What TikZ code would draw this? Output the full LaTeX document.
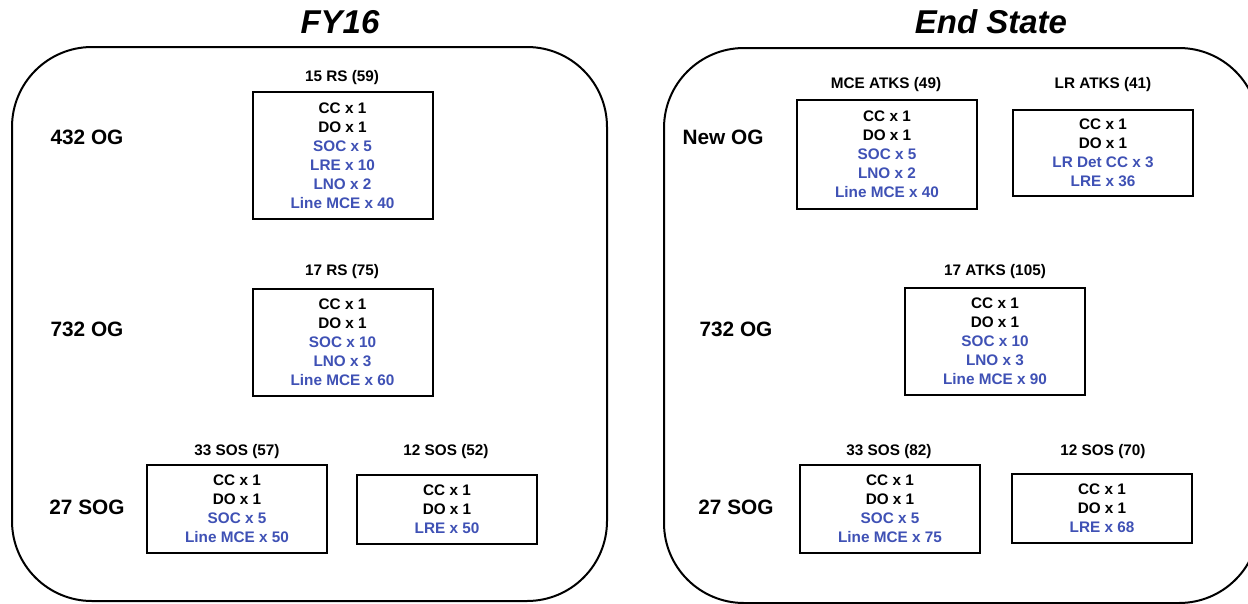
\documentclass[tikz,border=0pt]{standalone}
\usepackage{fontspec}
\setmainfont{Liberation Sans}
\definecolor{itemblue}{RGB}{63,81,181}
\begin{document}
\begin{tikzpicture}[x=1pt,y=-1pt,
  panel/.style={draw=black,line width=2pt,rounded corners=80pt},
  unitbox/.style={draw=black,line width=2pt,minimum width=180pt,align=center,inner sep=0pt,font=\fontsize{15.3}{19}\selectfont\bfseries},
  unitlabel/.style={font=\fontsize{15.3}{17}\selectfont\bfseries},
  grplabel/.style={font=\fontsize{20.8}{24}\selectfont\bfseries},
  title/.style={font=\fontsize{33}{38}\selectfont\bfseries\itshape},
  bl/.style={text=itemblue}]
\useasboundingbox (0,0) rectangle (1248,603);
\fill[white] (0,0) rectangle (1248,603);
% panels
\draw[panel] (12,47) rectangle (607,601);
\draw[panel] (664,48) rectangle (1259,603);
\node[title] (t1) at (340,22) {FY16};
\node[title] (t2) at (991,22) {End State};
% left panel
\node[grplabel] (g1) at (87,137) {432 OG};
\node[grplabel] (g2) at (87,329) {732 OG};
\node[grplabel] (g3) at (87,507) {27 SOG};
\node[unitbox,minimum height=127pt] (b1) at (342.5,155.5) {CC x 1\\DO x 1\\\color{itemblue}SOC x 5\\\color{itemblue}LRE x 10\\\color{itemblue}LNO x 2\\\color{itemblue}Line MCE x 40};
\node[unitlabel] (l1) at (342,78) {15 RS (59)};
\node[unitbox,minimum height=107pt] (b2) at (342.5,342.5) {CC x 1\\DO x 1\\\color{itemblue}SOC x 10\\\color{itemblue}LNO x 3\\\color{itemblue}Line MCE x 60};
\node[unitlabel] (l2) at (342,272) {17 RS (75)};
\node[unitbox,minimum height=88pt] (b3) at (237,509) {CC x 1\\DO x 1\\\color{itemblue}SOC x 5\\\color{itemblue}Line MCE x 50};
\node[unitlabel] (l3) at (237,452) {33 SOS (57)};
\node[unitbox,minimum height=69pt] (b4) at (447,509.5) {CC x 1\\DO x 1\\\color{itemblue}LRE x 50};
\node[unitlabel] (l4) at (446,452) {12 SOS (52)};
% right panel
\node[grplabel] (g4) at (723,137) {New OG};
\node[grplabel] (g5) at (736,329) {732 OG};
\node[grplabel] (g6) at (736,507) {27 SOG};
\node[unitbox,minimum height=109pt] (b5) at (887,154.5) {CC x 1\\DO x 1\\\color{itemblue}SOC x 5\\\color{itemblue}LNO x 2\\\color{itemblue}Line MCE x 40};
\node[unitlabel] (l5) at (886,85) {MCE ATKS (49)};
\node[unitbox,minimum height=86pt] (b6) at (1103,153) {CC x 1\\DO x 1\\\color{itemblue}LR Det CC x 3\\\color{itemblue}LRE x 36};
\node[unitlabel] (l6) at (1103,85) {LR ATKS (41)};
\node[unitbox,minimum height=107pt] (b7) at (995,341.5) {CC x 1\\DO x 1\\\color{itemblue}SOC x 10\\\color{itemblue}LNO x 3\\\color{itemblue}Line MCE x 90};
\node[unitlabel] (l7) at (995,272) {17 ATKS (105)};
\node[unitbox,minimum height=88pt] (b8) at (890,509) {CC x 1\\DO x 1\\\color{itemblue}SOC x 5\\\color{itemblue}Line MCE x 75};
\node[unitlabel] (l8) at (889,452) {33 SOS (82)};
\node[unitbox,minimum height=69pt] (b9) at (1102,508.5) {CC x 1\\DO x 1\\\color{itemblue}LRE x 68};
\node[unitlabel] (l9) at (1103,452) {12 SOS (70)};
\end{tikzpicture}
\end{document}
